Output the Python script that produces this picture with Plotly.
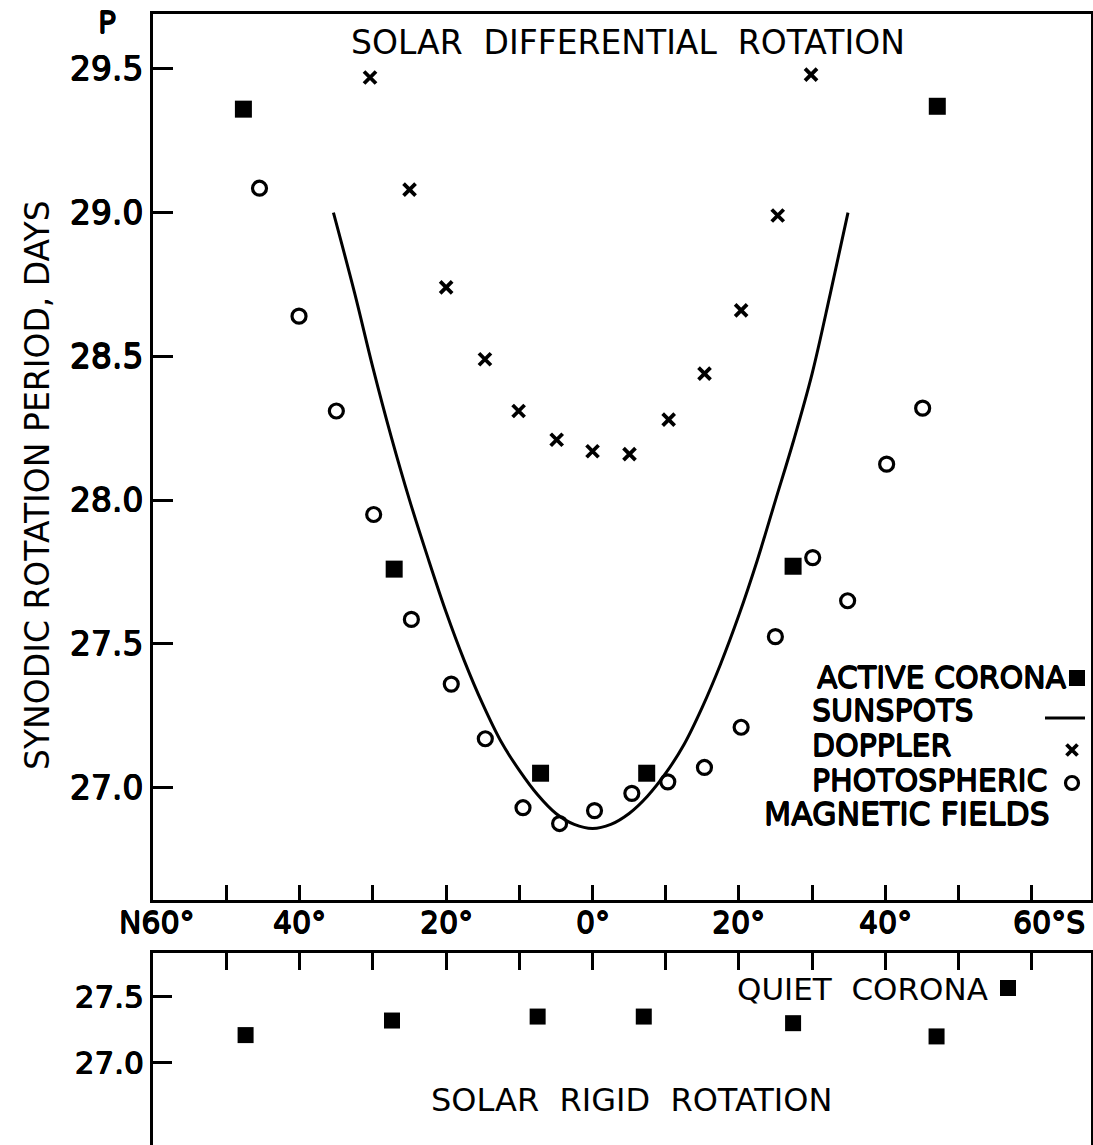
import plotly.graph_objects as go

# ---------------- data ----------------
corona_lat = [-47.7, -27.1, -7.1, 7.4, 27.4, 47.1]
corona_p = [29.36, 27.76, 27.05, 27.05, 27.77, 29.37]

sunspot_lat = [-35.4, -32.5, -30, -27.5, -25, -22.5, -20, -17.5, -15, -12.5, -10, -7.5, -5, -2.5, 0,
               2.5, 5, 7.5, 10, 12.5, 15, 17.5, 20, 22.5, 25, 27.5, 30, 32.5, 34.9]
sunspot_p = [29.0, 28.72, 28.46, 28.22, 28.0, 27.80, 27.61, 27.44, 27.29, 27.16, 27.06, 26.975, 26.91, 26.872, 26.858,
             26.872, 26.91, 26.97, 27.05, 27.15, 27.28, 27.43, 27.60, 27.79, 28.0, 28.21, 28.44, 28.72, 29.0]

doppler_lat = [-30.4, -25.0, -20.0, -14.7, -10.1, -4.9, 0.0, 5.05, 10.4, 15.3, 20.3, 25.3, 29.85]
doppler_p = [29.47, 29.08, 28.74, 28.49, 28.31, 28.21, 28.17, 28.16, 28.28, 28.44, 28.66, 28.99, 29.48]

photo_lat = [-45.5, -40.1, -35.0, -29.9, -24.75, -19.3, -14.65, -9.5, -4.5, 0.27, 5.37, 10.28, 15.29,
             20.3, 24.98, 30.08, 34.85, 40.18, 45.1]
photo_p = [29.085, 28.64, 28.31, 27.95, 27.585, 27.36, 27.17, 26.93, 26.875, 26.92, 26.98, 27.02, 27.07,
           27.21, 27.525, 27.80, 27.65, 28.125, 28.32]

quiet_lat = [-47.4, -27.4, -7.5, 7.0, 27.4, 47.0]
quiet_p = [27.21, 27.32, 27.35, 27.35, 27.30, 27.20]

x_tick_vals = [-60, -40, -20, 0, 20, 40, 60]
x_tick_text = ["N60°", "40°", "20°", "0°", "20°", "40°", "60°S"]
y_tick_vals = [27.0, 27.5, 28.0, 28.5, 29.0, 29.5]
y2_tick_vals = [27.0, 27.5]

legend_items = ["ACTIVE CORONA", "SUNSPOTS", "DOPPLER", "PHOTOSPHERIC", "MAGNETIC FIELDS"]

# ---------------- layout helpers ----------------
W, H = 1093, 1145
ML, MR, MT, MB = 153, 2, 14, 0
PW, PH = W - ML - MR, H - MT - MB


def px(x):
    return (x - ML) / PW


def py(y):
    return (H - MB - y) / PH


FONT = "DejaVu Sans"
BLACK = "black"
HEAVY = "0.6px 0 0 black, -0.6px 0 0 black, 0 0.6px 0 black, 0 -0.6px 0 black"


def tfont(size, heavy=True):
    d = dict(size=size, family=FONT, color=BLACK)
    if heavy:
        d["shadow"] = HEAVY
    return d


fig = go.Figure()

fig.add_trace(go.Scatter(x=sunspot_lat, y=sunspot_p, mode="lines",
                         line=dict(color=BLACK, width=3, shape="spline", smoothing=1.0),
                         xaxis="x", yaxis="y", showlegend=False))
fig.add_trace(go.Scatter(x=corona_lat, y=corona_p, mode="markers",
                         marker=dict(symbol="square", size=17, color=BLACK), xaxis="x", yaxis="y", showlegend=False))
fig.add_trace(go.Scatter(x=doppler_lat, y=doppler_p, mode="markers",
                         marker=dict(symbol="x-thin", size=12, line=dict(color=BLACK, width=3.8)),
                         xaxis="x", yaxis="y", showlegend=False))
fig.add_trace(go.Scatter(x=photo_lat, y=photo_p, mode="markers",
                         marker=dict(symbol="circle-open", size=14, color=BLACK, line=dict(color=BLACK, width=3.2)),
                         xaxis="x", yaxis="y", showlegend=False))
fig.add_trace(go.Scatter(x=quiet_lat, y=quiet_p, mode="markers",
                         marker=dict(symbol="square", size=16, color=BLACK), xaxis="x2", yaxis="y2", showlegend=False))

x_range = [-60.05, 68.1]
main_dom = [py(900), 1.0]
low_dom = [0.0, py(953)]

fig.update_layout(
    width=W, height=H, margin=dict(l=ML, r=MR, t=MT, b=MB),
    paper_bgcolor="white", plot_bgcolor="white",
    font=dict(family=FONT, color=BLACK),
    xaxis=dict(domain=[0, 1], range=x_range, anchor="y", showgrid=False, zeroline=False,
               showline=True, linecolor=BLACK, linewidth=3, mirror=True,
               ticks="inside", ticklen=15, tickwidth=2.5, tickcolor=BLACK,
               tickvals=list(range(-60, 61, 10)), showticklabels=False),
    yaxis=dict(domain=main_dom, range=[26.609, 29.691], anchor="x", showgrid=False, zeroline=False,
               showline=True, linecolor=BLACK, linewidth=3, mirror=True,
               ticks="inside", ticklen=20, tickwidth=2.5, tickcolor=BLACK,
               tickvals=y_tick_vals, ticktext=[f"{v:.1f}" for v in y_tick_vals],
               tickfont=tfont(33)),
    xaxis2=dict(domain=[0, 1], range=x_range, anchor="y2", side="top", showgrid=False, zeroline=False,
                showline=True, linecolor=BLACK, linewidth=3, mirror=False,
                ticks="inside", ticklen=17, tickwidth=2.5, tickcolor=BLACK,
                tickvals=list(range(-60, 61, 10)), showticklabels=False),
    yaxis2=dict(domain=low_dom, range=[26.38, 27.83], anchor="x2", showgrid=False, zeroline=False,
                showline=True, linecolor=BLACK, linewidth=3, mirror=True,
                ticks="inside", ticklen=19, tickwidth=2.5, tickcolor=BLACK,
                tickvals=y2_tick_vals, ticktext=[f"{v:.1f}" for v in y2_tick_vals],
                tickfont=tfont(31)),
)

ann = []
# x tick labels of the main panel
for v, t in zip(x_tick_vals, x_tick_text):
    xv = v
    if t.startswith("N"):
        xv = v + 0.5
    if t.endswith("S"):
        xv = v + 2.4
    ann.append(dict(x=xv, y=py(922), xref="x", yref="paper", text=t, showarrow=False,
                    xanchor="center", yanchor="middle", font=tfont(30)))

ann.append(dict(x=px(107), y=py(22), xref="paper", yref="paper", text="P", showarrow=False,
                xanchor="center", yanchor="middle", font=tfont(30)))
ann.append(dict(x=px(628), y=py(42), xref="paper", yref="paper", text="SOLAR  DIFFERENTIAL  ROTATION",
                showarrow=False, xanchor="center", yanchor="middle", font=tfont(33, False)))
ann.append(dict(x=px(37), y=py(485), xref="paper", yref="paper", text="SYNODIC ROTATION PERIOD, DAYS",
                showarrow=False, textangle=-90, xanchor="center", yanchor="middle",
                font=tfont(33, False)))

legend_pos = [(815, 677), (810, 711), (810, 746), (810, 781), (762, 814)]
legend_sizes = [30, 30, 30, 30, 31.5]
for t, (lx, ly), fs in zip(legend_items, legend_pos, legend_sizes):
    ann.append(dict(x=px(lx), y=py(ly), xref="paper", yref="paper", text=t, showarrow=False,
                    xanchor="left", yanchor="middle", font=tfont(fs)))

ann.append(dict(x=px(990), y=py(989), xref="paper", yref="paper", text="QUIET  CORONA", showarrow=False,
                xanchor="right", yanchor="middle", font=tfont(31, False)))
ann.append(dict(x=px(631), y=py(1100), xref="paper", yref="paper", text="SOLAR  RIGID  ROTATION", showarrow=False,
                xanchor="center", yanchor="middle", font=tfont(32, False)))

shapes = []


def rect(cx, cy, s):
    return dict(type="rect", xref="paper", yref="paper", x0=px(cx - s / 2), x1=px(cx + s / 2),
                y0=py(cy + s / 2), y1=py(cy - s / 2), fillcolor=BLACK, line=dict(width=0))


shapes.append(rect(1077, 678, 16))
shapes.append(dict(type="line", xref="paper", yref="paper", x0=px(1045), x1=px(1085), y0=py(718), y1=py(718),
                   line=dict(color=BLACK, width=3)))
cx, cy, h = 1072, 750, 5.5
shapes.append(dict(type="path", xref="paper", yref="paper",
                   path=f"M {px(cx-h)} {py(cy-h)} L {px(cx+h)} {py(cy+h)} M {px(cx-h)} {py(cy+h)} L {px(cx+h)} {py(cy-h)}",
                   line=dict(color=BLACK, width=3.8)))
cx, cy, r = 1072, 783, 6.5
shapes.append(dict(type="circle", xref="paper", yref="paper", x0=px(cx - r), x1=px(cx + r), y0=py(cy + r),
                   y1=py(cy - r), line=dict(color=BLACK, width=3.2)))
shapes.append(rect(1008, 988, 16))

fig.update_layout(annotations=ann, shapes=shapes)

fig.write_html("out.html")
